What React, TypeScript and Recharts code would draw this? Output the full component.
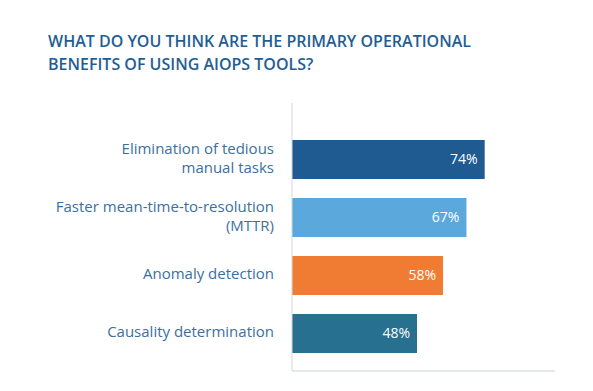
import React from "react"
import { BarChart, Bar, XAxis, YAxis, Cell, LabelList } from "recharts"

// categories split into the lines shown on the chart
const categoryLines: string[][] = [
  ["Elimination of tedious", "manual tasks"],
  ["Faster mean-time-to-resolution", "(MTTR)"],
  ["Anomaly detection"],
  ["Causality determination"],
]
const values = [74, 67, 58, 48]
const barColors = ["#1f5b90", "#5aa8dc", "#f07b33", "#27708f"]
const title = ["WHAT DO YOU THINK ARE THE PRIMARY OPERATIONAL", "BENEFITS OF USING AIOPS TOOLS?"]

const data = categoryLines.map((lines, i) => ({
  name: lines.join(" "),
  value: values[i],
}))

const font = "'Open Sans', sans-serif"

function CategoryTick(props: any) {
  const { x, y, payload } = props
  const lines = categoryLines[payload.index] || [payload.value]
  const lh = 19
  return (
    <text x={x} y={y} textAnchor="end" fill="#3b70a0" fontSize={15} fontFamily={font}>
      {lines.map((l, i) => (
        <tspan key={i} x={x} y={y + (i - (lines.length - 1) / 2) * lh + 4}>
          {l}
        </tspan>
      ))}
    </text>
  )
}

export default function App() {
  return (
    <div style={{ position: "relative", width: 593, height: 391, margin: -8, background: "#fff" }}>
      <div
        style={{
          position: "absolute",
          left: 48,
          top: 30,
          fontFamily: font,
          fontWeight: 600,
          fontSize: 16,
          lineHeight: "23px",
          color: "#1f5e94",
        }}
      >
        {title.map((t, i) => (
          <div key={i}>{t}</div>
        ))}
      </div>
      <BarChart
        width={593}
        height={391}
        data={data}
        layout="vertical"
        margin={{ top: 103, right: 38, bottom: 19, left: 0 }}
      >
        <XAxis
          type="number"
          domain={[0, 101]}
          height={1}
          tick={false}
          tickLine={false}
          axisLine={{ stroke: "#dde1e5", strokeWidth: 1.5 }}
        />
        <YAxis
          type="category"
          dataKey="name"
          width={292}
          padding={{ top: 27, bottom: 9 }}
          axisLine={{ stroke: "#d3d7db" }}
          tickLine={false}
          tickSize={6}
          tickMargin={12}
          interval={0}
          tick={<CategoryTick />}
        />
        <Bar dataKey="value" barSize={39} isAnimationActive={false}>
          {data.map((d, i) => (
            <Cell key={i} fill={barColors[i]} />
          ))}
          <LabelList
            dataKey="value"
            position="insideRight"
            offset={7}
            fill="#ffffff"
            fontSize={14}
            fontFamily={font}
            formatter={(v: any) => `${v}%`}
          />
        </Bar>
      </BarChart>
    </div>
  )
}
